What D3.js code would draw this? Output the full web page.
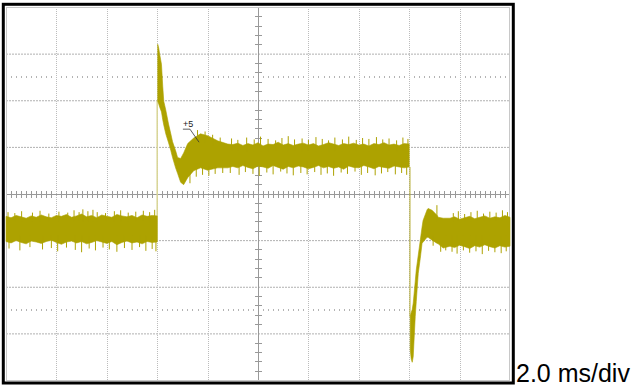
<!DOCTYPE html>
<html>
<head>
<meta charset="utf-8">
<script src="https://cdn.jsdelivr.net/npm/d3@7/dist/d3.min.js"></script>
<style>
  html, body { margin: 0; padding: 0; background: #ffffff; }
  svg { display: block; }
</style>
</head>
<body>
<svg id="chart" width="637" height="388"></svg>
<script>
// ---------------- DATA (time in ms, amplitude in divisions) ----------------
const xGridTicks = [2, 4, 6, 8, 10, 12, 14, 16, 18];
const yGridTicks = [-3, -2, -1, 1, 2, 3];
const timebaseLabel = "2.0 ms/div";
const markerLabel = "+5";

// steady segments: start time, sample step, upper / lower band edges
const baseLeftStart = 0.0, baseLeftStep = 0.2;
const baseLeftHi = [-0.49,-0.52,-0.47,-0.50,-0.53,-0.48,-0.51,-0.46,-0.50,-0.52,-0.47,-0.49,-0.45,-0.51,-0.48,-0.44,-0.50,-0.47,-0.52,-0.46,-0.49,-0.51,-0.45,-0.48,-0.50,-0.47,-0.52,-0.46,-0.49,-0.47,-0.48];
const baseLeftLo = [-1.03,-1.06,-1.01,-1.05,-1.08,-1.02,-1.04,-1.07,-1.03,-1.00,-1.05,-1.09,-1.04,-1.02,-1.06,-1.03,-1.08,-1.05,-1.01,-1.04,-1.07,-1.03,-1.10,-1.05,-1.02,-1.06,-1.04,-1.08,-1.03,-1.05,-1.04];

// transient after the rising step: [t, lo, hi]
const riseTransient = [
  [6.02, 1.98, 3.20],[6.06, 1.92, 3.12],[6.10, 1.85, 2.98],[6.17, 1.75, 2.77],
  [6.22, 1.58, 2.30],[6.26, 1.47, 1.98],[6.34, 1.28, 1.79],[6.45, 1.09, 1.49],
  [6.54, 0.92, 1.28],[6.61, 0.77, 1.11],[6.73, 0.55, 0.92],[6.81, 0.43, 0.77],
  [6.93, 0.24, 0.75],[7.05, 0.19, 0.87],[7.21, 0.34, 1.07],[7.45, 0.49, 1.19],
  [7.72, 0.55, 1.28],[8.00, 0.50, 1.24],[8.40, 0.55, 1.13],[8.80, 0.55, 1.06]
];

const plateauStart = 9.0, plateauStep = 0.2;
const plateauHi = [1.05,1.08,1.03,1.07,1.04,1.09,1.02,1.06,1.05,1.10,1.04,1.07,1.03,1.06,1.08,1.04,1.07,1.02,1.05,1.09,1.06,1.03,1.07,1.05,1.08,1.04,1.06,1.02,1.07,1.05,1.09,1.04,1.06,1.03,1.07,1.06];
const plateauLo = [0.58,0.55,0.60,0.56,0.53,0.59,0.57,0.54,0.60,0.56,0.52,0.58,0.55,0.59,0.57,0.53,0.56,0.60,0.55,0.58,0.54,0.57,0.52,0.59,0.56,0.55,0.60,0.57,0.53,0.58,0.56,0.54,0.59,0.57,0.55,0.57];

// transient after the falling step: [t, lo, hi]
const fallTransient = [
  [16.04,-3.35,-2.64],[16.08,-3.55,-2.55],[16.12,-3.62,-2.49],[16.16,-3.50,-2.35],
  [16.24,-2.64,-1.88],[16.28,-2.32,-1.64],[16.36,-1.71,-1.32],[16.44,-1.39,-1.00],
  [16.51,-1.07,-0.72],[16.55,-1.04,-0.58],[16.71,-0.94,-0.35],[16.75,-0.94,-0.32],
  [16.91,-1.00,-0.36],[17.11,-1.07,-0.47],[17.15,-1.08,-0.51],[17.35,-1.17,-0.53],
  [17.62,-1.13,-0.53]
];

const baseRightStart = 17.8, baseRightStep = 0.2;
const baseRightHi = [-0.50,-0.55,-0.52,-0.49,-0.54,-0.51,-0.48,-0.53,-0.50,-0.52,-0.47,-0.51];
const baseRightLo = [-1.16,-1.11,-1.14,-1.18,-1.12,-1.15,-1.10,-1.14,-1.17,-1.12,-1.15,-1.13];

// step edges: [t, from, to]
const riseEdge = [6.0, -1.0, 2.0];
const fallEdge = [16.03, 0.57, -2.64];

// noise spikes: [t, tip, base]
const spikesUp = [
  [0.08,-0.40,-0.6],[0.35,-0.42,-0.6],[0.62,-0.38,-0.6],[1.05,-0.41,-0.6],[1.35,-0.37,-0.6],[1.70,-0.43,-0.6],
  [2.10,-0.39,-0.6],[2.45,-0.41,-0.6],[2.70,-0.36,-0.6],[2.90,-0.40,-0.6],[3.05,-0.34,-0.6],[3.25,-0.38,-0.6],
  [3.45,-0.35,-0.6],[3.62,-0.40,-0.6],[3.95,-0.42,-0.6],[4.30,-0.38,-0.6],[4.55,-0.36,-0.6],[4.85,-0.41,-0.6],
  [5.15,-0.39,-0.6],[5.45,-0.37,-0.6],[5.70,-0.40,-0.6],[5.90,-0.35,-0.6],
  [7.60,1.36,1.1],[7.90,1.33,1.1],[8.20,1.26,1.0],[8.50,1.20,1.0],
  [8.95,1.18,0.9],[9.20,1.15,0.9],[9.55,1.20,0.9],[9.85,1.16,0.9],[10.10,1.22,0.9],[10.40,1.17,0.9],
  [10.70,1.14,0.9],[10.95,1.19,0.9],[11.20,1.23,0.9],[11.45,1.16,0.9],[11.75,1.18,0.9],[12.00,1.15,0.9],
  [12.30,1.21,0.9],[12.55,1.17,0.9],[12.80,1.14,0.9],[13.05,1.20,0.9],[13.35,1.16,0.9],[13.60,1.22,0.9],
  [13.90,1.15,0.9],[14.15,1.19,0.9],[14.40,1.17,0.9],[14.70,1.21,0.9],[14.95,1.16,0.9],[15.20,1.18,0.9],
  [15.50,1.14,0.9],[15.75,1.20,0.9],[15.95,1.17,0.9],
  [17.10,-0.25,-0.6],[17.75,-0.42,-0.6],[17.95,-0.38,-0.6],[18.20,-0.44,-0.6],[18.45,-0.40,-0.6],
  [18.70,-0.37,-0.6],[18.95,-0.43,-0.6],[19.20,-0.39,-0.6],[19.45,-0.41,-0.6],[19.70,-0.36,-0.6],[19.90,-0.40,-0.6]
];
const spikesDown = [
  [0.12,-1.18,-0.9],[0.55,-1.22,-0.9],[0.95,-1.15,-0.9],[1.45,-1.20,-0.9],[1.80,-1.17,-0.9],[2.05,-1.24,-0.9],
  [2.40,-1.16,-0.9],[2.75,-1.21,-0.9],[3.00,-1.26,-0.9],[3.30,-1.18,-0.9],[3.55,-1.22,-0.9],[3.85,-1.16,-0.9],
  [4.10,-1.20,-0.9],[4.40,-1.25,-0.9],[4.70,-1.17,-0.9],[5.00,-1.21,-0.9],[5.30,-1.15,-0.9],[5.55,-1.23,-0.9],
  [5.80,-1.19,-0.9],[5.95,-1.24,-0.9],
  [7.30,0.22,0.5],[7.55,0.36,0.6],[7.80,0.40,0.6],[8.05,0.38,0.6],[8.30,0.42,0.6],[8.60,0.44,0.7],
  [8.90,0.44,0.7],[9.25,0.40,0.7],[9.50,0.46,0.7],[9.80,0.42,0.7],[10.05,0.38,0.7],[10.35,0.45,0.7],
  [10.60,0.41,0.7],[10.90,0.47,0.7],[11.15,0.43,0.7],[11.40,0.39,0.7],[11.70,0.44,0.7],[11.95,0.41,0.7],
  [12.25,0.46,0.7],[12.50,0.40,0.7],[12.75,0.43,0.7],[13.00,0.38,0.7],[13.30,0.45,0.7],[13.55,0.42,0.7],
  [13.85,0.47,0.7],[14.10,0.40,0.7],[14.35,0.44,0.7],[14.65,0.39,0.7],[14.90,0.43,0.7],[15.15,0.46,0.7],
  [15.45,0.41,0.7],[15.70,0.44,0.7],[15.90,0.40,0.7],
  [16.95,-1.12,-0.9],[17.25,-1.25,-0.9],[17.45,-1.22,-0.9],
  [17.70,-1.25,-0.9],[17.90,-1.29,-0.9],[18.15,-1.22,-0.9],[18.40,-1.27,-0.9],[18.65,-1.24,-0.9],
  [18.90,-1.30,-0.9],[19.15,-1.23,-0.9],[19.40,-1.26,-0.9],[19.65,-1.28,-0.9],[19.85,-1.24,-0.9]
];

// marker annotation: text position, underline end, pointer tip  [t, v]
const markerText = [7.02, 1.43];
const markerUnderlineEnd = [7.30, 1.38];
const markerTip = [7.66, 1.10];

// ---------------- DRAWING ----------------
const traceColor = "#ada200";
const svg = d3.select("#chart");
const x = d3.scaleLinear().domain([0, 20]).range([6, 510]);
const y = d3.scaleLinear().domain([-4, 4]).range([380, 7]);

function seg(start, step, hi, lo) {
  return hi.map((h, i) => [start + i * step, lo[i], h]);
}

// grid
const g = svg.append("g");
g.selectAll("line.hg").data(yGridTicks).join("line")
  .attr("x1", x(0)).attr("x2", x(20))
  .attr("y1", d => y(d) + 0.5).attr("y2", d => y(d) + 0.5)
  .attr("stroke", "#b0b0b0").attr("stroke-width", 1).attr("stroke-dasharray", "2,1");
g.selectAll("line.vg").data(xGridTicks).join("line")
  .attr("x1", d => Math.round(x(d)) + 0.5).attr("x2", d => Math.round(x(d)) + 0.5)
  .attr("y1", y(4)).attr("y2", y(-4))
  .attr("stroke", "#bcbcbc").attr("stroke-width", 1).attr("stroke-dasharray", "1,1");

// dotted rows at +/-2.5 div
const minorX = d3.range(1, 100).map(i => i * 0.2).filter(t => Math.abs(t / 2 - Math.round(t / 2)) > 0.01);
[2.5, -2.5].forEach(v => {
  g.selectAll(null).data(minorX).join("rect")
    .attr("x", d => Math.round(x(d))).attr("y", Math.round(y(v)) - 1)
    .attr("width", 1).attr("height", 2).attr("fill", "#b4b4b4");
});

// centre axes with minor ticks
const axisColor = "#999999";
g.append("line").attr("x1", x(0)).attr("x2", x(20))
  .attr("y1", Math.round(y(0)) + 0.5).attr("y2", Math.round(y(0)) + 0.5)
  .attr("stroke", axisColor);
g.append("line").attr("x1", Math.round(x(10)) + 0.5).attr("x2", Math.round(x(10)) + 0.5)
  .attr("y1", y(4)).attr("y2", y(-4)).attr("stroke", axisColor);
g.selectAll(null).data(minorX).join("line")
  .attr("x1", d => Math.round(x(d)) + 0.5).attr("x2", d => Math.round(x(d)) + 0.5)
  .attr("y1", Math.round(y(0)) - 3).attr("y2", Math.round(y(0)) + 4)
  .attr("stroke", axisColor);
const minorY = d3.range(-19, 20).map(i => i * 0.2).filter(v => Math.abs(v - Math.round(v)) > 0.01);
g.selectAll(null).data(minorY).join("line")
  .attr("x1", Math.round(x(10)) - 3).attr("x2", Math.round(x(10)) + 4)
  .attr("y1", d => Math.round(y(d)) + 0.5).attr("y2", d => Math.round(y(d)) + 0.5)
  .attr("stroke", axisColor);

// inner boundary
svg.append("rect").attr("x", x(0) + 0.5).attr("y", y(4) + 0.5)
  .attr("width", x(20) - x(0) - 1).attr("height", y(-4) - y(4))
  .attr("fill", "none").attr("stroke", "#c8c8c8");

// trace
const area = d3.area().x(d => x(d[0])).y0(d => y(d[1])).y1(d => y(d[2]));
const segments = [
  seg(baseLeftStart, baseLeftStep, baseLeftHi, baseLeftLo),
  riseTransient.concat(seg(plateauStart, plateauStep, plateauHi, plateauLo)),
  fallTransient.concat(seg(baseRightStart, baseRightStep, baseRightHi, baseRightLo))
];
svg.append("line")
  .attr("x1", x(riseEdge[0])).attr("x2", x(riseEdge[0]))
  .attr("y1", y(riseEdge[1])).attr("y2", y(riseEdge[2]))
  .attr("stroke", "#d9d596").attr("stroke-width", 1.5);
svg.append("line")
  .attr("x1", x(fallEdge[0])).attr("x2", x(fallEdge[0]))
  .attr("y1", y(fallEdge[1])).attr("y2", y(fallEdge[2]))
  .attr("stroke", "#b3a930").attr("stroke-width", 1);
svg.selectAll("path.trace").data(segments).join("path")
  .attr("d", area).attr("fill", traceColor)
  .attr("stroke", traceColor).attr("stroke-width", 0.6);
svg.selectAll("line.sp").data(spikesUp.concat(spikesDown)).join("line")
  .attr("x1", d => x(d[0])).attr("x2", d => x(d[0]))
  .attr("y1", d => y(d[1])).attr("y2", d => y(d[2]))
  .attr("stroke", traceColor).attr("stroke-width", 1);

// marker annotation
svg.append("text").attr("x", x(markerText[0])).attr("y", y(markerText[1]))
  .attr("font-family", "Liberation Sans, Arial, sans-serif").attr("font-size", 9)
  .attr("fill", "#222").text(markerLabel);
svg.append("path")
  .attr("d", d3.line()([[x(markerText[0]), y(markerUnderlineEnd[1])],
                        [x(markerUnderlineEnd[0]), y(markerUnderlineEnd[1])],
                        [x(markerTip[0]), y(markerTip[1])]]))
  .attr("fill", "none").attr("stroke", "#333").attr("stroke-width", 0.8);

// outer black frame
svg.append("rect").attr("x", 3.3).attr("y", 4.3).attr("width", 510).attr("height", 378.7)
  .attr("fill", "none").attr("stroke", "#000").attr("stroke-width", 3);

// timebase label
svg.append("text").attr("x", 516).attr("y", 382)
  .attr("font-family", "Liberation Sans, Arial, sans-serif").attr("font-size", 25)
  .attr("fill", "#000").text(timebaseLabel);
</script>
</body>
</html>
